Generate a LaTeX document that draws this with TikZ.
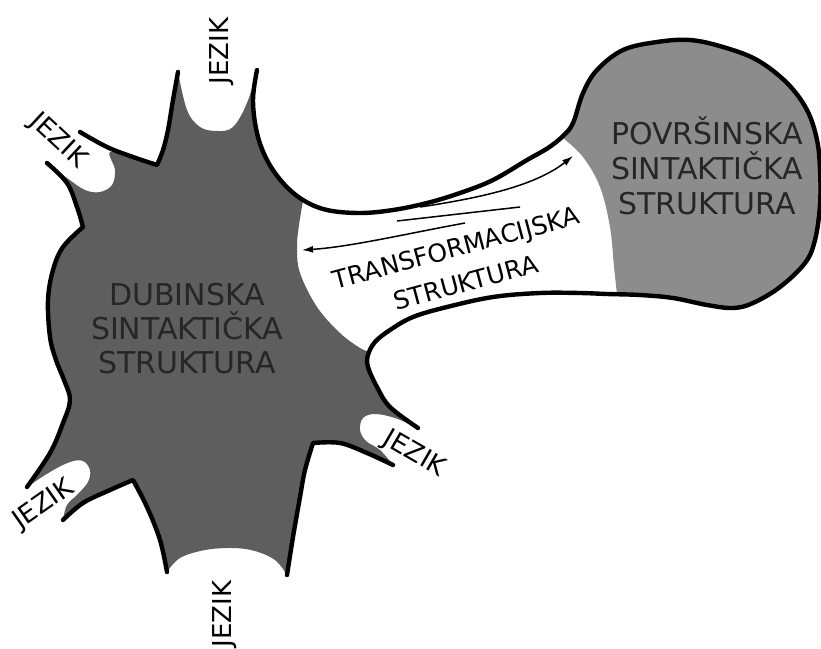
\documentclass[tikz,border=0pt]{standalone}
\usepackage{fontspec}
\setmainfont{DejaVu Sans}
\usetikzlibrary{arrows.meta}
\definecolor{darkfill}{RGB}{94,94,94}
\definecolor{lightfill}{RGB}{140,140,140}
\definecolor{txtdark}{RGB}{38,38,38}
\begin{document}
\begin{tikzpicture}[x=1pt,y=-1pt,
  outline/.style={line width=4.4pt,line cap=round,line join=round,draw=black},
  bigtext/.style={font=\fontsize{30}{34}\selectfont,align=center,text=txtdark,inner sep=0pt},
  jezik/.style={font=\fontsize{26}{30}\selectfont,inner sep=0pt,text=black},
  trans/.style={font=\fontsize{25}{36}\selectfont,align=center,inner sep=0pt,text=black,rotate=15},
  thinline/.style={line width=1.5pt},
  tipR/.style={thinline,-{Latex[length=11pt,width=7pt]}}]
\useasboundingbox (0,0) rectangle (821,648);
\fill[white] (0,0) rectangle (821,648);
% right (grey) blob
\fill[lightfill] plot[smooth,tension=0.6] coordinates {(563,138) (573,123) (583,93) (597,70) (623,50) (657,42) (690,40) (723,47) (757,60) (787,83) (807,110) (817,140) (820,170) (820,205) (815,240) (805,263) (780,287) (753,303) (733,308) (707,305) (673,298) (640,295) (617,294)}
  -- plot[smooth,tension=0.6] coordinates {(617,294) (614,267) (610,227) (600,187) (583,157) (563,138)} -- cycle;
% left (dark) blob
\fill[darkfill]
  plot[smooth,tension=0.6] coordinates {(178,72) (187,110) (200,127) (217,131) (233,127) (247,103) (257,70)}
  -- plot[smooth,tension=0.6] coordinates {(257,70) (253,100) (257,133) (267,160) (283,183) (303,201)}
  -- plot[smooth,tension=0.6] coordinates {(303,201) (299,225) (297,247) (300,273) (317,307) (340,333) (360,348) (370,352)}
  -- plot[smooth,tension=0.6] coordinates {(370,352) (368,367) (377,387) (390,407) (418,428)}
  -- plot[smooth,tension=0.6] coordinates {(418,428) (395,418) (375,414) (363,418) (360,430) (366,441) (380,450) (393,465)}
  -- plot[smooth,tension=0.6] coordinates {(393,465) (367,453) (340,443) (313,443)}
  -- plot[smooth,tension=0.6] coordinates {(313,443) (305,470) (300,497) (293,537) (287,575)}
  -- plot[smooth,tension=0.6] coordinates {(287,575) (275,560) (255,551) (233,548) (205,550) (180,558) (167,572)}
  -- plot[smooth,tension=0.6] coordinates {(167,572) (160,540) (147,507) (133,480)}
  -- plot[smooth,tension=0.6] coordinates {(133,480) (110,490) (83,503) (63,520)}
  -- plot[smooth,tension=0.6] coordinates {(63,520) (67,505) (78,494) (88,482) (90,470) (83,461) (70,462) (50,472) (27,487)}
  -- plot[smooth,tension=0.6] coordinates {(27,487) (50,453) (63,423) (70,400) (64,380) (56,360) (50,337) (48,300) (53,270) (63,247) (83,227)}
  -- plot[smooth,tension=0.6] coordinates {(83,227) (77,207) (67,183) (47,163)}
  -- plot[smooth,tension=0.6] coordinates {(47,163) (67,178) (85,190) (100,192) (112,185) (115,170) (110,152) (133,157) (157,165)}
  -- plot[smooth,tension=0.6] coordinates {(157,165) (163,150) (168,130) (173,100) (178,72)} -- cycle;
% outlines
\draw[outline] plot[smooth,tension=0.6] coordinates {(80,132) (107,147) (133,157) (157,165)}
  -- plot[smooth,tension=0.6] coordinates {(157,165) (163,150) (168,130) (173,100) (178,72)};
\draw[outline] plot[smooth,tension=0.6] coordinates {(257,70) (253,100) (257,133) (267,160) (283,183) (303,200) (327,210) (360,213) (393,210) (427,203) (460,193) (493,180) (527,160) (548,148) (563,136) (573,123) (583,93) (597,70) (623,50) (657,42) (690,40) (723,47) (757,60) (787,83) (807,110) (817,140) (820,170) (820,205) (815,240) (805,263) (780,287) (753,303) (733,308) (707,305) (673,298) (640,295) (607,294) (580,293) (540,293) (493,297) (447,307) (413,317) (390,330) (375,342) (368,355) (368,367) (377,387) (390,407) (418,428)};
\draw[outline] plot[smooth,tension=0.6] coordinates {(393,465) (367,453) (340,443) (313,443)}
  -- plot[smooth,tension=0.6] coordinates {(313,443) (305,470) (300,497) (293,537) (287,575)};
\draw[outline] plot[smooth,tension=0.6] coordinates {(167,572) (160,540) (147,507) (133,480)}
  -- plot[smooth,tension=0.6] coordinates {(133,480) (110,490) (83,503) (63,520)};
\draw[outline] plot[smooth,tension=0.6] coordinates {(27,487) (50,453) (63,423) (70,400) (64,380) (56,360) (50,337) (48,300) (53,270) (63,247) (83,227)}
  -- plot[smooth,tension=0.6] coordinates {(83,227) (77,207) (67,183) (47,163)};
% arrows in the band
\coordinate (uL) at (420,207);
\coordinate (uR) at (573,156);
\coordinate (sL) at (397,221);
\coordinate (sR) at (520,207);
\coordinate (lR) at (465,223);
\coordinate (lL) at (302,250);
\draw[tipR] (uL) .. controls (480,198) and (535,186) .. (uR);
\draw[thinline] (sL) -- (sR);
\draw[tipR] (lR) .. controls (410,233) and (350,247) .. (lL);
% texts
\node[bigtext] (deep) at (187,329) {DUBINSKA\\SINTAKTIČKA\\STRUKTURA};
\node[bigtext,font=\fontsize{30}{35}\selectfont] (surf) at (707,166) {POVRŠINSKA\\SINTAKTIČKA\\STRUKTURA};
\node[trans] (tr) at (461,265) {TRANSFORMACIJSKA\\STRUKTURA};
\node[jezik,rotate=90] (j1) at (222,51) {JEZIK};
\node[jezik,rotate=-43] (j2) at (58,141) {JEZIK};
\node[jezik,rotate=35] (j3) at (44,505) {JEZIK};
\node[jezik,rotate=90] (j4) at (225,614) {JEZIK};
\node[jezik,rotate=-30] (j5) at (414,454) {JEZIK};
\end{tikzpicture}
\end{document}
